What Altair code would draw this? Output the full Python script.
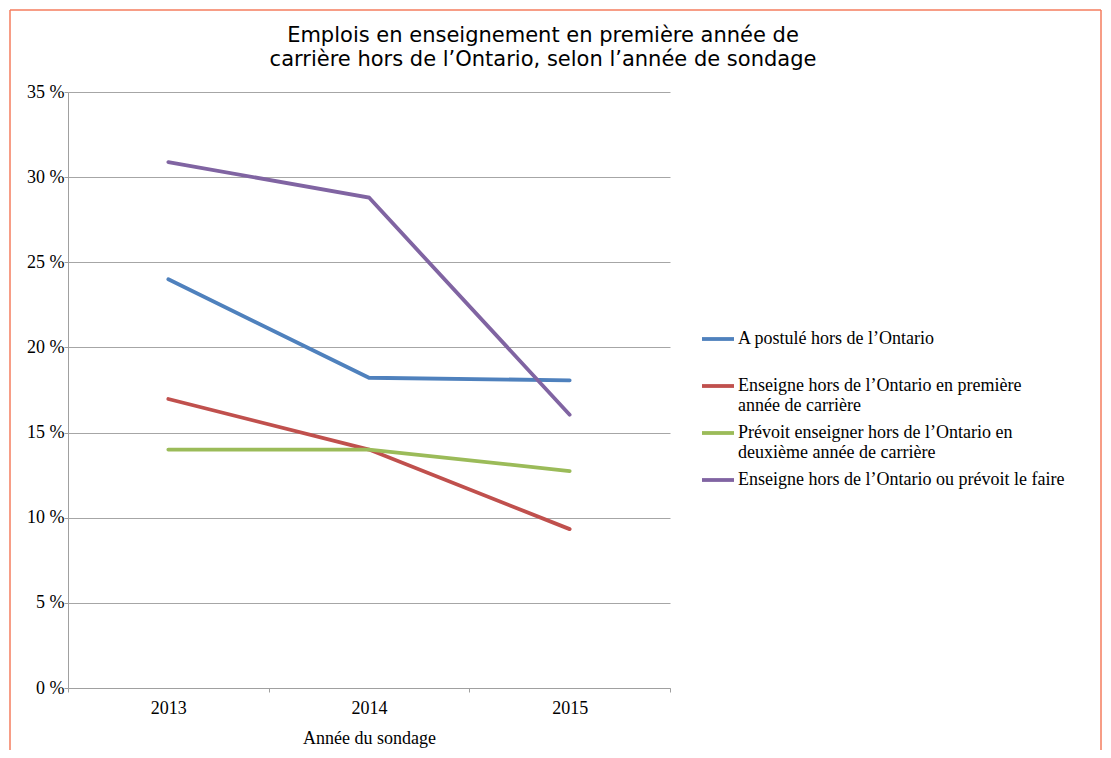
import altair as alt
import pandas as pd

years = ["2013", "2014", "2015"]
series_names = [
    "A postulé hors de l’Ontario",
    "Enseigne hors de l’Ontario en première année de carrière",
    "Prévoit enseigner hors de l’Ontario en deuxième année de carrière",
    "Enseigne hors de l’Ontario ou prévoit le faire",
]
label_lines = [
    ["A postulé hors de l’Ontario", ""],
    ["Enseigne hors de l’Ontario en première", "année de carrière"],
    ["Prévoit enseigner hors de l’Ontario en", "deuxième année de carrière"],
    ["Enseigne hors de l’Ontario ou prévoit le faire", ""],
]
applied = [24.0, 18.22, 18.07]
teaching_first = [16.97, 14.0, 9.33]
plans_second = [14.0, 14.0, 12.74]
teaching_or_plans = [30.88, 28.8, 16.05]
colors = ["#4f81bd", "#c0504d", "#9bbb59", "#8064a2"]
y_ticks = [0, 5, 10, 15, 20, 25, 30, 35]

rows = []
for name, vals in zip(series_names, [applied, teaching_first, plans_second, teaching_or_plans]):
    for yr, v in zip(years, vals):
        rows.append({"Année": yr, "Série": name, "Valeur": v})
df = pd.DataFrame(rows)

def js(s):
    return "'" + s.replace("'", "\\'") + "'"

expr = "datum.label"
for name, lines in reversed(list(zip(series_names, label_lines))):
    arr = "[" + ", ".join(js(l) for l in lines) + "]"
    expr = f"datum.label == {js(name)} ? {arr} : ({expr})"

serif = "Liberation Serif"
grey = "#a0a0a0"

lines = alt.Chart(df).mark_line(strokeWidth=3.8, strokeCap="round").encode(
    x=alt.X("Année:N", bandPosition=0.5,
            scale=alt.Scale(type="band", paddingInner=0, paddingOuter=0),
            axis=alt.Axis(title="Année du sondage", labelAngle=0, tickBand="extent",
                          labelFont=serif, labelFontSize=18, labelColor="black",
                          titleFont=serif, titleFontSize=18, titleFontWeight="normal",
                          titleColor="black", labelPadding=7, titlePadding=12,
                          tickSize=4, tickColor=grey, domainColor=grey,
                          grid=False)),
    y=alt.Y("Valeur:Q", scale=alt.Scale(domain=[0, 35], nice=False),
            axis=alt.Axis(title=None, values=y_ticks, labelExpr="datum.value + ' %'",
                          labelFont=serif, labelFontSize=18, labelColor="black",
                          labelPadding=0, tickSize=4, tickColor=grey,
                          domainColor=grey, gridColor="#a6a6a6", gridWidth=1)),
    color=alt.Color("Série:N", scale=alt.Scale(domain=series_names, range=colors),
                    sort=series_names,
                    legend=alt.Legend(title=None, orient="none", legendX=632, legendY=229,
                                      symbolType="stroke", symbolStrokeWidth=3.8,
                                      symbolSize=1024, labelOffset=2, labelLimit=0,
                                      labelFont=serif, labelFontSize=18,
                                      labelColor="black", labelExpr=expr,
                                      rowPadding=0, padding=0)),
    order=alt.Order("Année:N"),
)

border = "#f47c5e"
one = alt.Data(values=[{"f": 1}])
left_edge = alt.Chart(one).mark_rule(color=border, strokeWidth=1.5).encode(
    x=alt.value(-58), y=alt.value(-82), y2=alt.value(658))
right_edge = alt.Chart(one).mark_rule(color=border, strokeWidth=1.5).encode(
    x=alt.value(1033), y=alt.value(-82), y2=alt.value(658))
top_edge = alt.Chart(one).mark_rule(color=border, strokeWidth=1.5).encode(
    x=alt.value(-58), x2=alt.value(1033), y=alt.value(-82))

chart = alt.layer(left_edge, right_edge, top_edge, lines).properties(
    width=602, height=596,
    padding={"left": 1, "top": 1, "right": 0, "bottom": 0},
    title=alt.Title(["Emplois en enseignement en première année de",
                     "carrière hors de l’Ontario, selon l’année de sondage"],
                    font="DejaVu Sans", fontSize=21, fontWeight="normal", color="black",
                    anchor="middle", dx=174, offset=-61, lineHeight=24),
).configure_view(stroke=None)

chart.save("out.html", embed_options={"renderer": "svg", "actions": False})
